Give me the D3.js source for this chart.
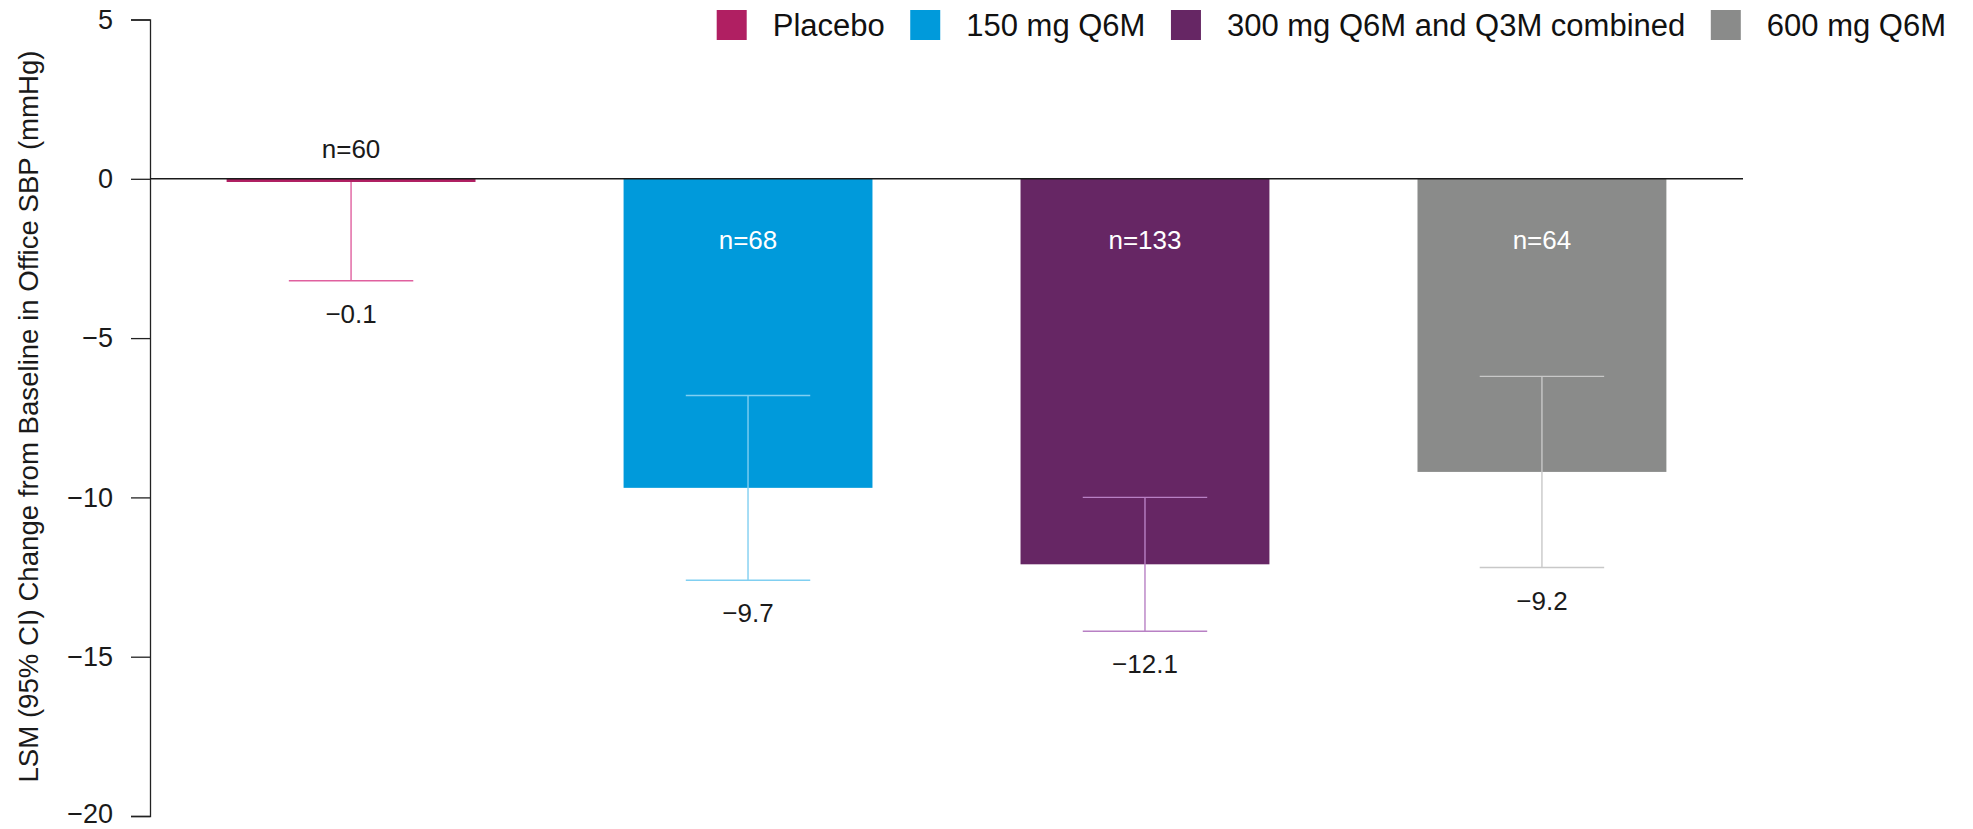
<!DOCTYPE html>
<html>
<head>
<meta charset="utf-8">
<script src="https://cdn.jsdelivr.net/npm/d3@7/dist/d3.min.js"></script>
<style>
  html, body { margin: 0; padding: 0; background: #ffffff; }
  svg text { font-family: "Liberation Sans", Arial, Helvetica, sans-serif; }
</style>
</head>
<body>
<svg id="chart" width="1973" height="829"></svg>
<script>
// Treatment groups
const groups = ["Placebo", "150 mg Q6M", "300 mg Q6M and Q3M combined", "600 mg Q6M"];
// Least-squares mean change from baseline (mmHg)
const lsm = [-0.1, -9.7, -12.1, -9.2];
// 95% CI bounds (upper bound of placebo not drawn)
const ciLow = [-3.2, -12.6, -14.2, -12.2];
const ciHigh = [null, -6.8, -10.0, -6.2];
// Patients per group
const nPatients = [60, 68, 133, 64];
// Y axis ticks
const yTicks = [5, 0, -5, -10, -15, -20];

const barColors = ["#B01F62", "#009ADB", "#662664", "#8A8B8A"];
const whiskerColors = ["#E0609F", "#80CFF1", "#B880C4", "#C8C8C8"];

const W = 1973, H = 829;
const svg = d3.select("#chart");
const fmt = v => (v < 0 ? "\u2212" : "") + Math.abs(v).toFixed(1);

const y = d3.scaleLinear().domain([-20, 5]).range([816, 19.5]);
const x = d3.scaleBand().domain(groups).range([150, 1743])
  .paddingInner(0.373).paddingOuter(0.193);

// Y axis
const yAxis = d3.axisLeft(y).tickValues(yTicks).tickSize(19).tickPadding(18)
  .tickFormat(d => (d < 0 ? "\u2212" : "") + Math.abs(d));
const gy = svg.append("g").attr("transform", "translate(150,0)").call(yAxis);
gy.select(".domain").attr("stroke", "#222").attr("stroke-width", 1.3);
gy.selectAll(".tick line").attr("stroke", "#222").attr("stroke-width", 1.3);
gy.selectAll(".tick text").attr("fill", "#1a1a1a").style("font-size", "27px")
  .style("font-family", "'Liberation Sans', Arial, sans-serif");
// keep the lowest tick label inside the canvas
gy.selectAll(".tick text").filter(d => d === -20).attr("dy", "0.24em");

// Axis title
svg.append("text")
  .attr("transform", `translate(38,416.5) rotate(-90)`)
  .attr("text-anchor", "middle")
  .attr("fill", "#1a1a1a")
  .style("font-size", "27.6px")
  .text("LSM (95% CI) Change from Baseline in Office SBP (mmHg)");

const data = groups.map((g, i) => ({
  g, v: lsm[i], lo: ciLow[i], hi: ciHigh[i], n: nPatients[i],
  fill: barColors[i], wc: whiskerColors[i]
}));

// Bars
svg.append("g").selectAll("rect").data(data).join("rect")
  .attr("x", d => x(d.g))
  .attr("width", x.bandwidth())
  .attr("y", d => y(Math.max(0, d.v)))
  .attr("height", d => Math.abs(y(d.v) - y(0)))
  .attr("fill", d => d.fill);

// Error bars
const capW = x.bandwidth() / 2;
const cxOf = d => x(d.g) + x.bandwidth() / 2;
const eb = svg.append("g").selectAll("g").data(data).join("g")
  .attr("stroke", d => d.wc).attr("stroke-width", 1.4).attr("fill", "none");
eb.append("line")
  .attr("x1", cxOf).attr("x2", cxOf)
  .attr("y1", d => y(d.hi === null ? d.v : d.hi))
  .attr("y2", d => y(d.lo));
eb.append("line")
  .attr("x1", d => cxOf(d) - capW / 2).attr("x2", d => cxOf(d) + capW / 2)
  .attr("y1", d => y(d.lo)).attr("y2", d => y(d.lo));
eb.filter(d => d.hi !== null).append("line")
  .attr("x1", d => cxOf(d) - capW / 2).attr("x2", d => cxOf(d) + capW / 2)
  .attr("y1", d => y(d.hi)).attr("y2", d => y(d.hi));

// Zero reference line
svg.append("line")
  .attr("x1", 150).attr("x2", 1743)
  .attr("y1", y(0)).attr("y2", y(0))
  .attr("stroke", "#1a1a1a").attr("stroke-width", 1.4);

// n labels: above the baseline for a very short bar, otherwise inside the bar
const shortBar = d => Math.abs(y(d.v) - y(0)) < 40;
svg.append("g").selectAll("text").data(data).join("text")
  .attr("x", cxOf)
  .attr("y", d => shortBar(d) ? y(0) - 30 : y(0) + 61)
  .attr("dy", "0.35em")
  .attr("text-anchor", "middle")
  .attr("fill", d => shortBar(d) ? "#1a1a1a" : "#ffffff")
  .style("font-size", "26px")
  .text(d => "n=" + d.n);

// Value labels under the lower CI bound
svg.append("g").selectAll("text").data(data).join("text")
  .attr("x", cxOf)
  .attr("y", d => y(d.lo) + 33)
  .attr("dy", "0.35em")
  .attr("text-anchor", "middle")
  .attr("fill", "#1a1a1a")
  .style("font-size", "26px")
  .text(d => fmt(d.v));

// Legend: spread between a fixed left start and right end
const legLeft = 716.7, legRight = 1946, sw = 30, swGap = 26;
const legend = svg.append("g");
const items = groups.map((g, i) => {
  const item = legend.append("g");
  item.append("rect").attr("x", 0).attr("y", 10).attr("width", sw).attr("height", sw)
    .attr("fill", barColors[i]);
  const t = item.append("text").attr("x", sw + swGap).attr("y", 36)
    .attr("fill", "#111").style("font-size", "31px").text(g);
  return { item, w: sw + swGap + t.node().getComputedTextLength() };
});
const total = d3.sum(items, d => d.w);
const gap = (legRight - legLeft - total) / (items.length - 1);
let lx = legLeft;
items.forEach(d => {
  d.item.attr("transform", `translate(${lx},0)`);
  lx += d.w + gap;
});
</script>
</body>
</html>
